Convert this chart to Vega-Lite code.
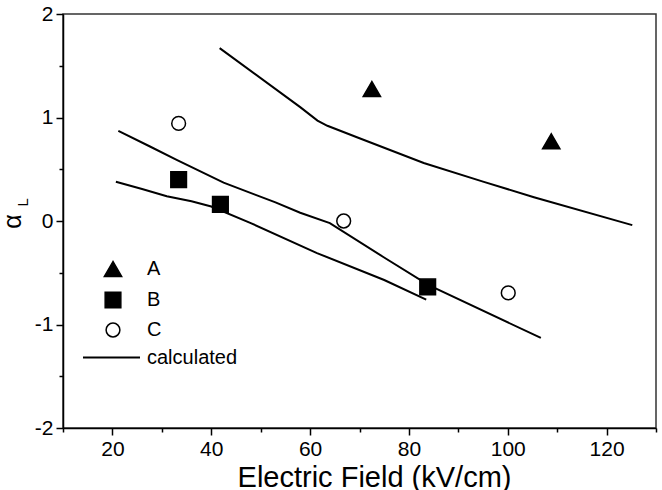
{
  "$schema": "https://vega.github.io/schema/vega-lite/v6.json",
  "width": 593,
  "height": 414,
  "autosize": {"type": "none"},
  "padding": {"left": 63, "top": 14, "right": 6, "bottom": 62},
  "background": "white",
  "config": {
    "font": "Liberation Sans",
    "view": {"stroke": "#333333", "strokeWidth": 1.5},
    "axis": {
      "grid": false,
      "domainColor": "black",
      "domainWidth": 1.5,
      "tickColor": "black",
      "tickWidth": 1.5,
      "labelColor": "black",
      "labelFont": "Liberation Sans",
      "labelFontSize": 21,
      "labelOverlap": false,
      "labelPadding": 3,
      "titleColor": "black",
      "titleFont": "Liberation Sans",
      "titleFontWeight": "normal"
    },
    "legend": {
      "labelFont": "Liberation Sans",
      "labelColor": "black",
      "labelFontSize": 20
    }
  },
  "datasets": {
    "curves": [
      {"curve": "c1", "E": 41.7, "alpha": 1.67},
      {"curve": "c1", "E": 58.0, "alpha": 1.10},
      {"curve": "c1", "E": 61.5, "alpha": 0.97},
      {"curve": "c1", "E": 63.5, "alpha": 0.92},
      {"curve": "c1", "E": 70.0, "alpha": 0.80},
      {"curve": "c1", "E": 83.0, "alpha": 0.56},
      {"curve": "c1", "E": 95.0, "alpha": 0.38},
      {"curve": "c1", "E": 105.3, "alpha": 0.23},
      {"curve": "c1", "E": 125.2, "alpha": -0.04},
      {"curve": "c2", "E": 21.2, "alpha": 0.87},
      {"curve": "c2", "E": 27.6, "alpha": 0.72},
      {"curve": "c2", "E": 33.0, "alpha": 0.59},
      {"curve": "c2", "E": 42.5, "alpha": 0.37},
      {"curve": "c2", "E": 53.0, "alpha": 0.18},
      {"curve": "c2", "E": 58.0, "alpha": 0.08},
      {"curve": "c2", "E": 64.0, "alpha": -0.02},
      {"curve": "c2", "E": 74.9, "alpha": -0.35},
      {"curve": "c2", "E": 84.0, "alpha": -0.62},
      {"curve": "c2", "E": 106.7, "alpha": -1.13},
      {"curve": "c3", "E": 20.7, "alpha": 0.38},
      {"curve": "c3", "E": 26.0, "alpha": 0.31},
      {"curve": "c3", "E": 31.0, "alpha": 0.24},
      {"curve": "c3", "E": 36.0, "alpha": 0.19},
      {"curve": "c3", "E": 40.0, "alpha": 0.14},
      {"curve": "c3", "E": 48.0, "alpha": -0.02},
      {"curve": "c3", "E": 61.4, "alpha": -0.31},
      {"curve": "c3", "E": 75.0, "alpha": -0.57},
      {"curve": "c3", "E": 83.5, "alpha": -0.76}
    ],
    "samples": [
      {"sample": "A", "E": 72.5, "alpha": 1.275},
      {"sample": "A", "E": 108.8, "alpha": 0.77},
      {"sample": "B", "E": 33.4, "alpha": 0.40},
      {"sample": "B", "E": 41.85, "alpha": 0.16},
      {"sample": "B", "E": 83.8, "alpha": -0.637},
      {"sample": "C", "E": 33.4, "alpha": 0.943},
      {"sample": "C", "E": 66.8, "alpha": 0.0},
      {"sample": "C", "E": 100.1, "alpha": -0.695}
    ],
    "subscript": [
      {"sub": "L", "E": 1.9, "alpha": 0.18}
    ]
  },
  "encoding": {
    "x": {
      "field": "E",
      "type": "quantitative",
      "scale": {"domain": [10, 130], "nice": false, "zero": false},
      "axis": {
        "title": "Electric Field (kV/cm)",
        "titleFontSize": 29,
        "titleX": 311,
        "titleY": 58,
        "titleBaseline": "alphabetic",
        "values": [10, 20, 30, 40, 50, 60, 70, 80, 90, 100, 110, 120, 130],
        "labelExpr": "datum.value % 20 === 0 ? toString(datum.value) : ''",
        "tickSize": {"condition": {"test": "datum.value % 20 === 0", "value": 7}, "value": 4}
      }
    },
    "y": {
      "field": "alpha",
      "type": "quantitative",
      "scale": {"domain": [-2, 2], "nice": false, "zero": false},
      "axis": {
        "title": "α",
        "titleFontSize": 25,
        "titleAngle": 270,
        "titleX": -51,
        "titleBaseline": "middle",
        "values": [-2, -1.5, -1, -0.5, 0, 0.5, 1, 1.5, 2],
        "labelExpr": "datum.value % 1 === 0 ? toString(datum.value) : ''",
        "tickSize": {"condition": {"test": "datum.value % 1 === 0", "value": 7}, "value": 4}
      }
    }
  },
  "layer": [
    {
      "data": {"name": "curves"},
      "mark": {"type": "line", "strokeWidth": 2},
      "encoding": {
        "detail": {"field": "curve"},
        "stroke": {
          "datum": "calculated",
          "scale": {"range": ["black"]},
          "legend": {
            "orient": "none",
            "legendX": 19,
            "legendY": 314,
            "title": null,
            "padding": 0,
            "symbolType": "stroke",
            "symbolSize": 3249,
            "symbolStrokeWidth": 2,
            "symbolStrokeColor": "black",
            "labelOffset": 6
          }
        }
      }
    },
    {
      "data": {"name": "samples"},
      "mark": {"type": "point", "filled": true, "stroke": "black", "strokeWidth": 1.5, "opacity": 1},
      "encoding": {
        "shape": {
          "field": "sample",
          "type": "nominal",
          "scale": {"domain": ["A", "B", "C"], "range": ["triangle-up", "square", "circle"]},
          "legend": {
            "orient": "none",
            "legendX": 40,
            "legendY": 245,
            "title": null,
            "padding": 0,
            "rowPadding": 9,
            "labelOffset": 24,
            "symbolStrokeColor": "black",
            "symbolStrokeWidth": 1.5
          }
        },
        "fill": {
          "field": "sample",
          "type": "nominal",
          "scale": {"domain": ["A", "B", "C"], "range": ["black", "black", "white"]}
        },
        "size": {
          "field": "sample",
          "type": "nominal",
          "scale": {"domain": ["A", "B", "C"], "range": [300, 190, 170]}
        }
      }
    },
    {
      "data": {"name": "subscript"},
      "mark": {"type": "text", "angle": 270, "fontSize": 15, "align": "center", "baseline": "middle", "fill": "black", "clip": false},
      "encoding": {
        "text": {"field": "sub", "type": "nominal"}
      }
    }
  ]
}
